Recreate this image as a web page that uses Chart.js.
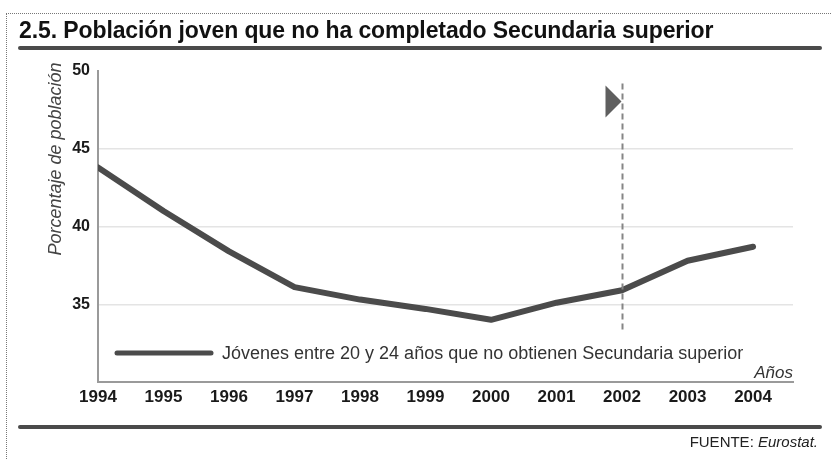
<!DOCTYPE html>
<html>
<head>
<meta charset="utf-8">
<script src="https://cdn.jsdelivr.net/npm/chart.js@4/dist/chart.umd.min.js"></script>
<style>
  html, body { margin: 0; padding: 0; background: #fff; }
  #wrap { position: relative; width: 832px; height: 460px; overflow: hidden; background: #fff; font-family: "Liberation Sans", Arial, sans-serif; }
  #c { position: absolute; left: 0; top: 0; }
  .frame { position: absolute; left: 6px; top: 13px; right: -5px; bottom: -5px; border-left: 1px dotted #777; border-top: 1px dotted #777; }
  .title { position: absolute; left: 19px; top: 17px; font-weight: bold; font-size: 23px; color: #111; white-space: nowrap; letter-spacing: -0.1px; }
  .rule { position: absolute; left: 18px; width: 804px; height: 4px; background: #4a4a4a; border-radius: 2px; }
  .src { position: absolute; right: 14px; top: 433px; font-size: 15px; color: #222; white-space: nowrap; }
  .ylab { position: absolute; left: 55px; top: 159px; transform: translate(-50%, -50%) rotate(-90deg); font-style: italic; font-size: 18px; color: #444; white-space: nowrap; }
</style>
</head>
<body>
<div id="wrap">
  <canvas id="c" width="832" height="460"></canvas>
  <div class="frame"></div>
  <div class="title">2.5. Población joven que no ha completado Secundaria superior</div>
  <div class="rule" style="top:46px"></div>
  <div class="ylab">Porcentaje de población</div>
  <div class="rule" style="top:425px"></div>
  <div class="src">FUENTE: <i>Eurostat.</i></div>
</div>
<script>
const years = [1994, 1995, 1996, 1997, 1998, 1999, 2000, 2001, 2002, 2003, 2004];
const values = [43.8, 41.0, 38.4, 36.1, 35.3, 34.7, 34.0, 35.1, 35.9, 37.8, 38.7];
const yTicks = [35, 40, 45, 50];
const seriesLabel = 'Jóvenes entre 20 y 24 años que no obtienen Secundaria superior';
const xAxisTitle = 'Años';
const markerYear = 2002;
const markerRange = [33.3, 49.2];

const points = years.map((y, i) => ({ x: y, y: values[i] }));

const overlay = {
  id: 'overlay',
  afterDatasetsDraw(chart) {
    const ctx = chart.ctx;
    const xs = chart.scales.x, ys = chart.scales.y;
    const px = Math.round(xs.getPixelForValue(markerYear)) + 0.5;
    const top = ys.getPixelForValue(markerRange[1]);
    const bot = ys.getPixelForValue(markerRange[0]);
    ctx.save();
    ctx.strokeStyle = '#858585';
    ctx.lineWidth = 2;
    ctx.setLineDash([6, 4]);
    ctx.beginPath();
    ctx.moveTo(px, top);
    ctx.lineTo(px, bot);
    ctx.stroke();
    ctx.setLineDash([]);
    ctx.fillStyle = '#5f5f5f';
    ctx.beginPath();
    ctx.moveTo(px - 17, top + 2);
    ctx.lineTo(px - 17, top + 34);
    ctx.lineTo(px - 1, top + 18);
    ctx.closePath();
    ctx.fill();

    // legend inside the plot
    const ds = chart.data.datasets[0];
    ctx.strokeStyle = ds.borderColor;
    ctx.lineWidth = 5;
    ctx.lineCap = 'round';
    ctx.beginPath();
    ctx.moveTo(117, 353);
    ctx.lineTo(211, 353);
    ctx.stroke();
    ctx.fillStyle = '#333';
    ctx.font = '18px "Liberation Sans", Arial, sans-serif';
    ctx.textBaseline = 'middle';
    ctx.textAlign = 'left';
    ctx.fillText(ds.label, 222, 354);

    // axis title
    ctx.font = 'italic 17px "Liberation Sans", Arial, sans-serif';
    ctx.textAlign = 'right';
    ctx.fillStyle = '#333';
    ctx.fillText(xAxisTitle, chart.chartArea.right, 373);
    ctx.restore();
  }
};

new Chart(document.getElementById('c'), {
  type: 'line',
  data: {
    datasets: [{
      label: seriesLabel,
      data: points,
      borderColor: '#4b4b4b',
      borderWidth: 6,
      borderCapStyle: 'round',
      borderJoinStyle: 'round',
      pointRadius: 0,
      tension: 0,
      fill: false
    }]
  },
  options: {
    responsive: false,
    animation: false,
    layout: { padding: { left: 0, top: 71, right: 39, bottom: 0 } },
    plugins: { legend: { display: false }, tooltip: { enabled: false }, title: { display: false } },
    scales: {
      x: {
        type: 'linear',
        min: years[0],
        max: years[years.length - 1] + 0.61,
        afterBuildTicks: s => { s.ticks = years.map(v => ({ value: v })); },
        afterFit: s => { s.height = 78; },
        grid: { display: false, drawTicks: false },
        border: { display: true, color: '#9a9a9a', width: 2 },
        ticks: {
          autoSkip: false,
          maxRotation: 0,
          padding: 5,
          color: '#1a1a1a',
          font: { family: '"Liberation Sans", Arial, sans-serif', size: 17, weight: 'bold' },
          callback: v => String(v)
        }
      },
      y: {
        min: 30,
        max: 50,
        afterBuildTicks: s => { s.ticks = yTicks.map(v => ({ value: v })); },
        afterFit: s => { s.width = 98; },
        grid: {
          drawTicks: false,
          color: c => (c.tick && c.tick.value === 50) ? 'rgba(0,0,0,0)' : '#e4e4e4',
          lineWidth: 1.5
        },
        border: { display: true, color: '#9a9a9a', width: 2 },
        ticks: {
          padding: 8,
          color: '#1a1a1a',
          font: { family: '"Liberation Sans", Arial, sans-serif', size: 16, weight: 'bold' }
        }
      }
    }
  },
  plugins: [overlay]
});
</script>
</body>
</html>
